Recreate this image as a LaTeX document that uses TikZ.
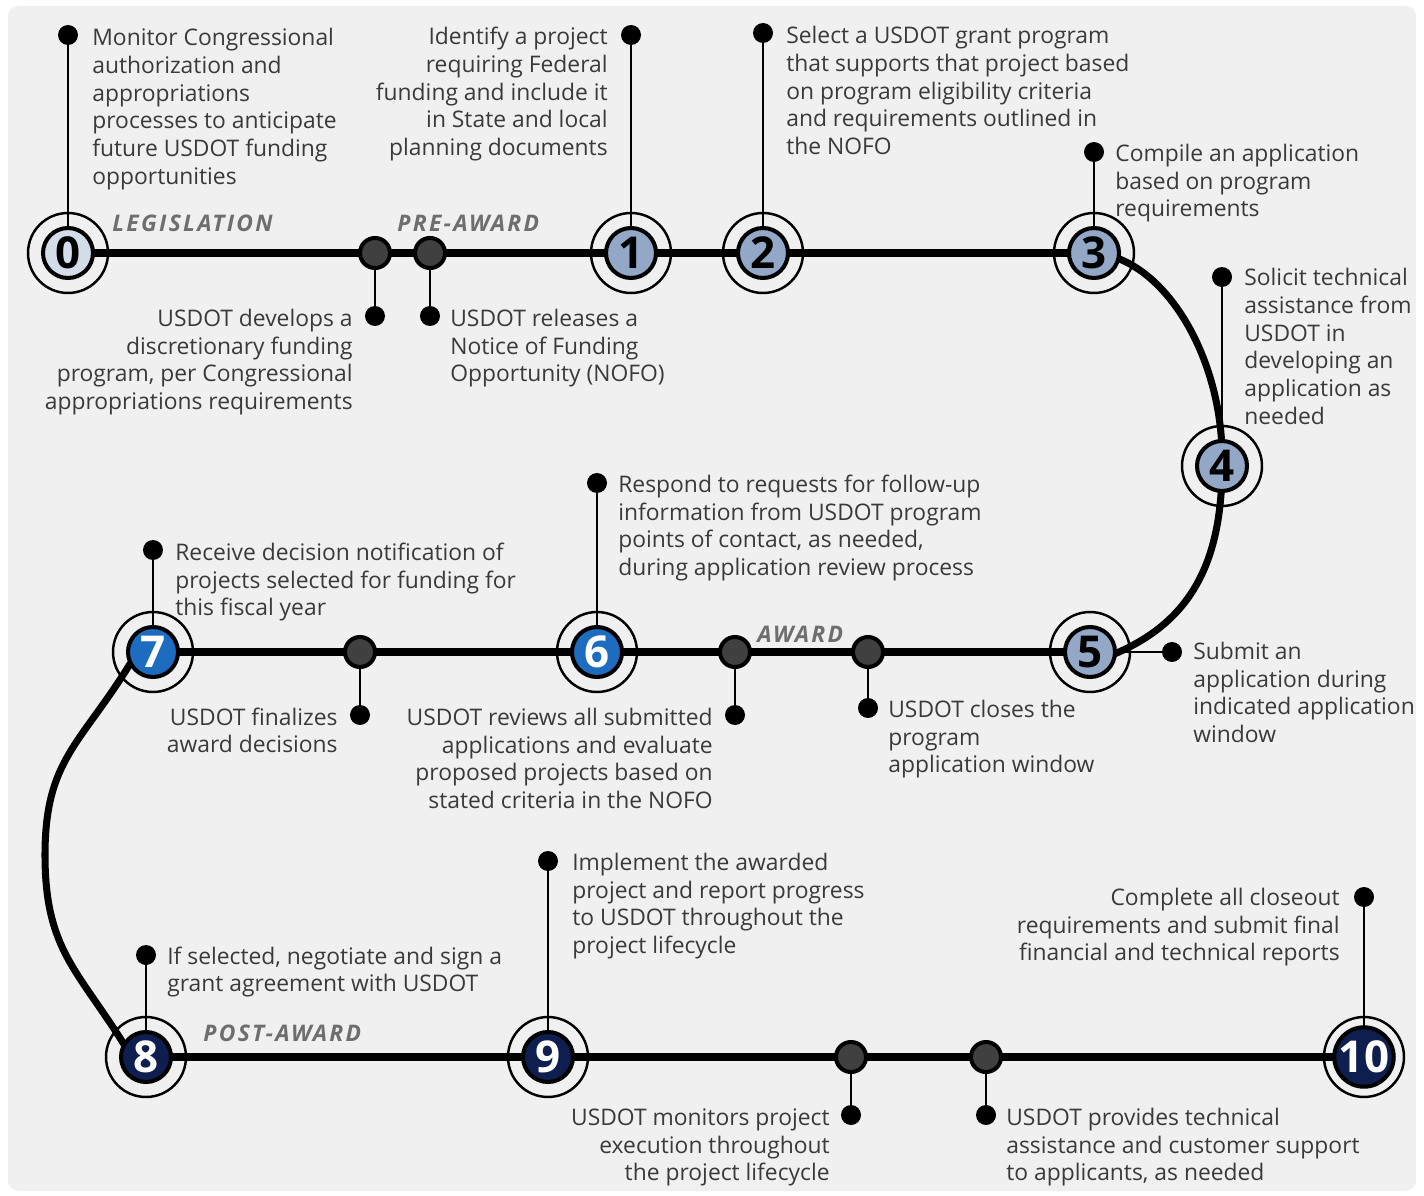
\documentclass[tikz,border=0pt]{standalone}
\usepackage{fontspec}
\setmainfont{Open Sans}
\definecolor{panelgray}{HTML}{F0F0F0}
\definecolor{lightfill}{HTML}{D3DDEA}
\definecolor{midfill}{HTML}{93A8C6}
\definecolor{bluefill}{HTML}{1E6CC0}
\definecolor{navyfill}{HTML}{0E1E4E}
\definecolor{junctionfill}{HTML}{404040}
\definecolor{textgray}{HTML}{3A3A3A}
\definecolor{phasegray}{HTML}{6E6E6E}
\pgfdeclarelayer{bg}
\pgfdeclarelayer{lines}
\pgfsetlayers{bg,lines,main}
\tikzset{
  ring/.style={circle, draw=black, line width=1.4pt, minimum size=1.6cm, inner sep=0pt},
  stepnum/.style={circle, draw=black, line width=2.3pt, minimum size=1.0cm, inner sep=0pt, font=\fontsize{25}{25}\selectfont\bfseries},
  lightstep/.style={stepnum, fill=lightfill, text=black},
  midstep/.style={stepnum, fill=midfill, text=black},
  bluestep/.style={stepnum, fill=bluefill, text=white},
  navystep/.style={stepnum, fill=navyfill, text=white},
  junction/.style={circle, draw=black, line width=2.3pt, fill=junctionfill, minimum size=0.6cm, inner sep=0pt},
  tipdot/.style={circle, fill=black, minimum size=0.4cm, inner sep=0pt},
  desc/.style={inner sep=0pt, text=textgray, font=\fontsize{13}{15.8}\selectfont},
  descL/.style={desc, align=left, anchor=base west},
  descR/.style={desc, align=right, anchor=base east},
  phase/.style={inner sep=0pt, anchor=base west, text=phasegray, font=\fontsize{13}{13}\selectfont\bfseries\itshape\addfontfeature{LetterSpace=10}},
  mainline/.style={line width=4pt, line join=round},
  thinline/.style={line width=0.85pt},
}
\begin{document}
\begin{tikzpicture}[x=0.02cm, y=-0.02cm]
\useasboundingbox (0,0) rectangle (1424,1196);
\begin{pgfonlayer}{bg}
\fill[white] (0,0) rectangle (1424,1196);
\fill[panelgray, rounded corners=6pt] (8,6) rectangle (1416,1191);
\end{pgfonlayer}

% step circles
\node[lightstep] (n0) at (68,253) {0};
\node[midstep] (n1) at (631,253) {1};
\node[midstep] (n2) at (763,253) {2};
\node[midstep] (n3) at (1094,253) {3};
\node[midstep] (n4) at (1222,466) {4};
\node[midstep] (n5) at (1090,652) {5};
\node[bluestep] (n6) at (597,652) {6};
\node[bluestep] (n7) at (153,652) {7};
\node[navystep] (n8) at (146,1057) {8};
\node[navystep] (n9) at (548,1057) {9};
\node[navystep] (n10) at (1364,1057) {10};
\foreach \k in {0,...,10} { \node[ring] (r\k) at (n\k) {}; }

% junctions on the line
\node[junction] (j1) at (375,253) {};
\node[junction] (j2) at (430,253) {};
\node[junction] (j3) at (360,652) {};
\node[junction] (j4) at (735,652) {};
\node[junction] (j5) at (868,652) {};
\node[junction] (j6) at (851,1057) {};
\node[junction] (j7) at (986,1057) {};

% tip dots
\node[tipdot] (t0) at (68,35) {};
\node[tipdot] (t1) at (631,35) {};
\node[tipdot] (t2) at (763,33) {};
\node[tipdot] (t3) at (1094,152) {};
\node[tipdot] (t4) at (1222,277) {};
\node[tipdot] (t5) at (1172,652) {};
\node[tipdot] (t6) at (597,483) {};
\node[tipdot] (t7) at (153,550) {};
\node[tipdot] (t8) at (146,955) {};
\node[tipdot] (t9) at (548,861) {};
\node[tipdot] (t10) at (1364,897) {};
\node[tipdot] (u1) at (375,316) {};
\node[tipdot] (u2) at (430,316) {};
\node[tipdot] (u3) at (360,715) {};
\node[tipdot] (u4) at (735,715) {};
\node[tipdot] (u5) at (868,708) {};
\node[tipdot] (u6) at (851,1115) {};
\node[tipdot] (u7) at (986,1115) {};

\coordinate (a3) at (1112,655);
\coordinate (a7) at (130,664);
\coordinate (a8) at (125,1046);
\coordinate (left) at (45,855);

\begin{pgfonlayer}{lines}
\draw[mainline] (n0.center) -- (n3.center);
\draw[mainline] (n3.center) .. controls (1165,258) and (1225,360) .. (n4.center)
   .. controls (1222,570) and (1185,625) .. (a3) -- (n5.center);
\draw[mainline] (n5.center) -- (n7.center);
\draw[mainline] (n7.center) -- (a7) .. controls (80,745) and (45,760) .. (left)
   .. controls (45,950) and (78,970) .. (a8) -- (n8.center);
\draw[mainline] (n8.center) -- (n10.center);
\foreach \k in {0,...,10} { \draw[thinline] (t\k.center) -- (n\k.center); }
\foreach \k in {1,...,7} { \draw[thinline] (u\k.center) -- (j\k.center); }
\end{pgfonlayer}

% phase labels
\node[phase] (p1) at (112,232) {LEGISLATION};
\node[phase] (p2) at (397,232) {PRE-AWARD};
\node[phase] (p3) at (757,642) {AWARD};
\node[phase] (p4) at (203,1041) {POST-AWARD};

% descriptions (anchored at the baseline of their last line)
\node[descL] (d0) at (92,184.5) {Monitor Congressional\\authorization and\\appropriations\\processes to anticipate\\future USDOT funding\\opportunities};
\node[descR] (d1) at (608,155.6) {Identify a project\\requiring Federal\\funding and include it\\in State and local\\planning documents};
\node[descL] (d2) at (786,154.6) {Select a USDOT grant program\\that supports that project based\\on program eligibility criteria\\and requirements outlined in\\the NOFO};
\node[descL] (d3) at (1115,216.8) {Compile an application\\based on program\\requirements};
\node[descL] (d4) at (1244,424.5) {Solicit technical\\assistance from\\USDOT in\\developing an\\application as\\needed};
\node[descR] (e1) at (353,409.7) {USDOT develops a\\discretionary funding\\program, per Congressional\\appropriations requirements};
\node[descL] (e2) at (450,381.8) {USDOT releases a\\Notice of Funding\\Opportunity (NOFO)};
\node[descL] (d5) at (1193,742.7) {Submit an\\application during\\indicated application\\window};
\node[descL] (d6) at (618,575.7) {Respond to requests for follow-up\\information from USDOT program\\points of contact, as needed,\\during application review process};
\node[descL] (d7) at (175,615.8) {Receive decision notification of\\projects selected for funding for\\this fiscal year};
\node[descR] (e3) at (338,752.9) {USDOT finalizes\\award decisions};
\node[descR] (e4) at (713,808.7) {USDOT reviews all submitted\\applications and evaluate\\proposed projects based on\\stated criteria in the NOFO};
\node[descL] (e5) at (888,772.8) {USDOT closes the\\program\\application window};
\node[descL] (d8) at (167,991.9) {If selected, negotiate and sign a\\grant agreement with USDOT};
\node[descL] (d9) at (572,953.7) {Implement the awarded\\project and report progress\\to USDOT throughout the\\project lifecycle};
\node[descR] (d10) at (1340,960.8) {Complete all closeout\\requirements and submit final\\financial and technical reports};
\node[descR] (e6) at (830,1180.8) {USDOT monitors project\\execution throughout\\the project lifecycle};
\node[descL] (e7) at (1006,1180.8) {USDOT provides technical\\assistance and customer support\\to applicants, as needed};
\end{tikzpicture}
\end{document}
